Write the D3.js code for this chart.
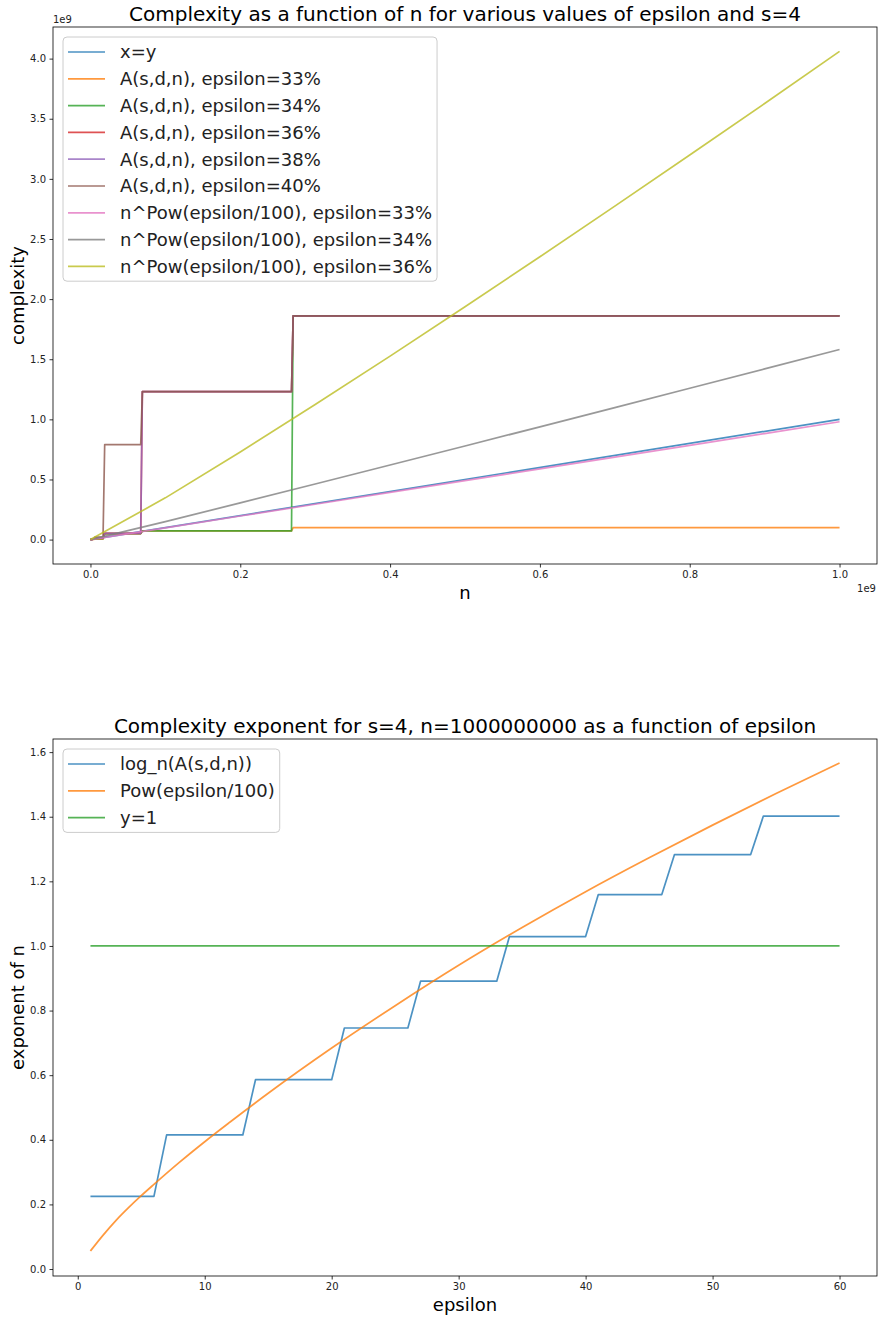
<!DOCTYPE html>
<html>
<head>
<meta charset="utf-8">
<script src="https://cdn.jsdelivr.net/npm/d3@7"></script>
<style>
  body { margin: 0; background: #fff; }
  svg { font-family: "DejaVu Sans", sans-serif; display: block; }
</style>
</head>
<body>
<svg id="chart" width="878" height="1319"></svg>
<script>
// ---- top panel data (n and values in units of 1e9) ----
const identityN = [0, 1];
const identityVals = [0, 1];

const stepN = [0, 0.004, 0.006, 0.0168, 0.019, 0.0671, 0.0693, 0.2684, 0.2706, 1.0];
const a33 = [0, 0.002, 0.004, 0.004, 0.05, 0.05, 0.072, 0.072, 0.1, 0.1];
const a34 = [0, 0.003, 0.008, 0.008, 0.05, 0.05, 0.072, 0.072, 1.86, 1.86];
const a36 = [0, 0.004, 0.012, 0.012, 0.052, 0.052, 1.23, 1.23, 1.86, 1.86];
const a38 = [0, 0.004, 0.012, 0.012, 0.052, 0.052, 1.23, 1.23, 1.86, 1.86];
const a40 = [0, 0.006, 0.02, 0.02, 0.79, 0.79, 1.23, 1.23, 1.86, 1.86];

const powN = [0, 0.1, 0.2, 0.3, 0.4, 0.5, 0.6, 0.7, 0.8, 0.9, 1.0];
const pow33 = [0, 0.098, 0.196, 0.294, 0.392, 0.49, 0.588, 0.686, 0.784, 0.882, 0.98];
const pow34 = [0, 0.150, 0.305, 0.462, 0.620, 0.778, 0.938, 1.098, 1.259, 1.420, 1.581];
const pow36 = [0, 0.347, 0.728, 1.123, 1.526, 1.936, 2.352, 2.773, 3.198, 3.627, 4.06];

// ---- bottom panel data ----
const epsAll = d3.range(1, 61);
const logA = [
  0.225, 0.225, 0.225, 0.225, 0.225, 0.225,
  0.415, 0.415, 0.415, 0.415, 0.415, 0.415, 0.415,
  0.586, 0.586, 0.586, 0.586, 0.586, 0.586, 0.586,
  0.746, 0.746, 0.746, 0.746, 0.746, 0.746,
  0.891, 0.891, 0.891, 0.891, 0.891, 0.891, 0.891,
  1.029, 1.029, 1.029, 1.029, 1.029, 1.029, 1.029,
  1.159, 1.159, 1.159, 1.159, 1.159, 1.159,
  1.283, 1.283, 1.283, 1.283, 1.283, 1.283, 1.283,
  1.402, 1.402, 1.402, 1.402, 1.402, 1.402, 1.402
];
const powEps = [1, 2, 3, 4, 5, 6, 8, 10, 12, 15, 20, 25, 30, 35, 40, 45, 50, 55, 60];
const powVals = [0.056, 0.105, 0.150, 0.190, 0.227, 0.262, 0.33, 0.394, 0.455, 0.544,
                 0.684, 0.815, 0.94, 1.057, 1.168, 1.273, 1.374, 1.472, 1.566];
const oneEps = [1, 60];
const oneVals = [1, 1];

const topTicksX = [0, 0.2, 0.4, 0.6, 0.8, 1.0];
const topTicksY = [0, 0.5, 1.0, 1.5, 2.0, 2.5, 3.0, 3.5, 4.0];
const botTicksX = [0, 10, 20, 30, 40, 50, 60];
const botTicksY = [0, 0.2, 0.4, 0.6, 0.8, 1.0, 1.2, 1.4, 1.6];

const colors = d3.schemeCategory10;
const svg = d3.select("#chart");

function zip(xs, ys) { return xs.map((x, i) => [x, ys[i]]); }

function panel(cfg) {
  const left = 53, right = 877;
  const x = d3.scaleLinear().domain(cfg.xDomain).range([left, right]);
  const y = d3.scaleLinear().domain(cfg.yDomain).range([cfg.bottom, cfg.top]);
  const g = svg.append("g");

  cfg.series.forEach(s => {
    const line = d3.line().x(d => x(d[0])).y(d => y(d[1]));
    if (s.curve) line.curve(s.curve);
    g.append("path")
      .datum(zip(s.x, s.y))
      .attr("fill", "none")
      .attr("stroke", s.color)
      .attr("stroke-opacity", 0.8)
      .attr("stroke-width", 1.7)
      .attr("stroke-linejoin", "round")
      .attr("d", line);
  });

  // frame
  g.append("rect")
    .attr("x", left).attr("y", cfg.top)
    .attr("width", right - left).attr("height", cfg.bottom - cfg.top)
    .attr("fill", "none").attr("stroke", "#000").attr("stroke-width", 0.8);

  const xAxis = d3.axisBottom(x).tickValues(cfg.xTicks).tickFormat(cfg.xFmt)
    .tickSizeInner(3.5).tickSizeOuter(0).tickPadding(3.5);
  const yAxis = d3.axisLeft(y).tickValues(cfg.yTicks).tickFormat(cfg.yFmt)
    .tickSizeInner(3.5).tickSizeOuter(0).tickPadding(3.5);

  const gx = g.append("g").attr("transform", `translate(0,${cfg.bottom})`).call(xAxis);
  const gy = g.append("g").attr("transform", `translate(${left},0)`).call(yAxis);
  [gx, gy].forEach(a => {
    a.select(".domain").remove();
    a.selectAll("text").attr("font-size", 10).attr("fill", "#222").attr("font-family", "DejaVu Sans");
    a.selectAll("line").attr("stroke", "#000").attr("stroke-width", 0.8);
  });

  // titles
  g.append("text").attr("x", (left + right) / 2).attr("y", cfg.top - 6)
    .attr("text-anchor", "middle").attr("font-size", 20).attr("fill", "#000").text(cfg.title);
  g.append("text").attr("x", (left + right) / 2).attr("y", cfg.bottom + 35)
    .attr("text-anchor", "middle").attr("font-size", 18).attr("fill", "#000").text(cfg.xlabel);
  g.append("text")
    .attr("transform", `translate(24,${(cfg.top + cfg.bottom) / 2}) rotate(-90)`)
    .attr("text-anchor", "middle").attr("font-size", 18).attr("fill", "#000").text(cfg.ylabel);

  if (cfg.offset) {
    g.append("text").attr("x", left).attr("y", cfg.top - 4)
      .attr("font-size", 10).attr("fill", "#222").text("1e9");
    g.append("text").attr("x", right - 1).attr("y", cfg.bottom + 28)
      .attr("text-anchor", "end").attr("font-size", 10).attr("fill", "#222").text("1e9");
  }

  // legend
  const lx = left + 10, ly = cfg.top + 10, row = 26.8;
  const lg = g.append("g");
  const box = lg.append("rect")
    .attr("x", lx).attr("y", ly).attr("rx", 4).attr("ry", 4)
    .attr("fill", "#fff").attr("fill-opacity", 0.8)
    .attr("stroke", "#ccc").attr("stroke-width", 1);
  let maxW = 0;
  cfg.series.forEach((s, i) => {
    const cy = ly + 15 + i * row;
    lg.append("line").attr("x1", lx + 5).attr("x2", lx + 42).attr("y1", cy).attr("y2", cy)
      .attr("stroke", s.color).attr("stroke-opacity", 0.8).attr("stroke-width", 1.7);
    const t = lg.append("text").attr("x", lx + 57).attr("y", cy).attr("dy", "0.35em")
      .attr("font-size", 18).attr("fill", "#222").text(s.label);
    maxW = Math.max(maxW, t.node().getComputedTextLength());
  });
  box.attr("width", 57 + maxW + 5).attr("height", cfg.series.length * row + 3);
}

panel({
  top: 27, bottom: 564,
  xDomain: [-0.05, 1.05], yDomain: [-0.203, 4.263],
  xTicks: topTicksX, yTicks: topTicksY,
  xFmt: d3.format(".1f"), yFmt: d3.format(".1f"),
  title: "Complexity as a function of n for various values of epsilon and s=4",
  xlabel: "n", ylabel: "complexity", offset: true,
  series: [
    { label: "x=y", x: identityN, y: identityVals, color: colors[0] },
    { label: "A(s,d,n), epsilon=33%", x: stepN, y: a33, color: colors[1] },
    { label: "A(s,d,n), epsilon=34%", x: stepN, y: a34, color: colors[2] },
    { label: "A(s,d,n), epsilon=36%", x: stepN, y: a36, color: colors[3] },
    { label: "A(s,d,n), epsilon=38%", x: stepN, y: a38, color: colors[4] },
    { label: "A(s,d,n), epsilon=40%", x: stepN, y: a40, color: colors[5] },
    { label: "n^Pow(epsilon/100), epsilon=33%", x: powN, y: pow33, color: colors[6] },
    { label: "n^Pow(epsilon/100), epsilon=34%", x: powN, y: pow34, color: colors[7] },
    { label: "n^Pow(epsilon/100), epsilon=36%", x: powN, y: pow36, color: colors[8] }
  ]
});

panel({
  top: 739, bottom: 1276,
  xDomain: [-1.95, 62.95], yDomain: [-0.0216, 1.6406],
  xTicks: botTicksX, yTicks: botTicksY,
  xFmt: d3.format("d"), yFmt: d3.format(".1f"),
  title: "Complexity exponent for s=4, n=1000000000 as a function of epsilon",
  xlabel: "epsilon", ylabel: "exponent of n", offset: false,
  series: [
    { label: "log_n(A(s,d,n))", x: epsAll, y: logA, color: colors[0] },
    { label: "Pow(epsilon/100)", x: powEps, y: powVals, color: colors[1], curve: d3.curveMonotoneX },
    { label: "y=1", x: oneEps, y: oneVals, color: colors[2] }
  ]
});
</script>
</body>
</html>
